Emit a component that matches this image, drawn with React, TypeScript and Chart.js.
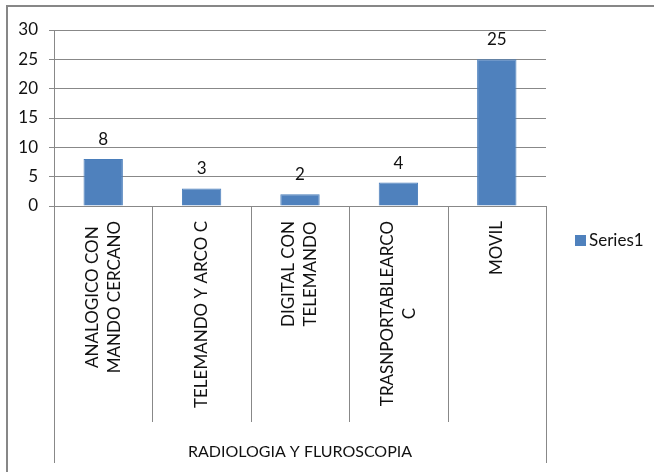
import React, { useEffect, useRef } from "react";
import { Chart, registerables } from "chart.js";

Chart.register(...registerables);

// Equipment categories (multi-line labels) and counts
const categories: string[][] = [
  ["ANALOGICO CON", "MANDO CERCANO"],
  ["TELEMANDO Y ARCO C"],
  ["DIGITAL CON", "TELEMANDO"],
  ["TRASNPORTABLEARCO", "C"],
  ["MOVIL"],
];
const seriesValues: number[] = [8, 3, 2, 4, 25];
const seriesName = "Series1";
const groupLabel = "RADIOLOGIA Y FLUROSCOPIA";
const yTicks: number[] = [0, 5, 10, 15, 20, 25, 30];

const FONT = "Lato, 'Open Sans', sans-serif";
const GRID = "#888888";
const BAR = "#4F81BD";
const TEXT = "#111111";

const decorations = {
  id: "decorations",
  afterDraw(chart: any) {
    const ctx = chart.ctx as CanvasRenderingContext2D;
    const x = chart.scales.x;
    const area = chart.chartArea;
    const n = categories.length;
    const half = (x.getPixelForValue(1) - x.getPixelForValue(0)) / 2;
    const sepBottom = area.bottom + 216;
    const outerBottom = area.bottom + 257;

    ctx.save();
    ctx.strokeStyle = GRID;
    ctx.lineWidth = 1;
    // category boundaries below the axis
    for (let i = 0; i <= n; i++) {
      const px = Math.round(x.getPixelForValue(i) - half) + 0.5;
      const bottom = i === 0 || i === n ? outerBottom : sepBottom;
      ctx.beginPath();
      ctx.moveTo(px, area.bottom);
      ctx.lineTo(px, bottom);
      ctx.stroke();
    }

    // rotated category labels, lines centred on each other
    ctx.fillStyle = TEXT;
    ctx.font = `17px ${FONT}`;
    const lineH = 22;
    const topY = area.bottom + 15;
    categories.forEach((lines, i) => {
      const cx = x.getPixelForValue(i);
      const w = Math.max(...lines.map((l) => ctx.measureText(l).width));
      ctx.save();
      ctx.translate(cx, topY);
      ctx.rotate(-Math.PI / 2);
      ctx.textAlign = "center";
      ctx.textBaseline = "middle";
      lines.forEach((l, j) => {
        ctx.fillText(l, -w / 2, (j - (lines.length - 1) / 2) * lineH);
      });
      ctx.restore();
    });

    // group label
    ctx.font = `16px ${FONT}`;
    ctx.textAlign = "center";
    ctx.textBaseline = "middle";
    ctx.fillText(groupLabel, (area.left + area.right) / 2, area.bottom + 246);

    // value labels above bars
    const meta = chart.getDatasetMeta(0);
    ctx.font = `17px ${FONT}`;
    ctx.textBaseline = "alphabetic";
    meta.data.forEach((bar: any, i: number) => {
      ctx.fillText(String(seriesValues[i]), bar.x, bar.y - 14);
    });

    // legend
    ctx.fillStyle = BAR;
    ctx.fillRect(area.right + 29, 235, 11, 11);
    ctx.fillStyle = TEXT;
    ctx.font = `17px ${FONT}`;
    ctx.textAlign = "left";
    ctx.textBaseline = "middle";
    ctx.fillText(seriesName, area.right + 43, 241);

    // outer chart frame
    ctx.strokeStyle = "#878787";
    ctx.lineWidth = 2;
    ctx.strokeRect(7, 6, 700, 520);
    ctx.restore();
  },
};

export default function App() {
  const ref = useRef<HTMLCanvasElement | null>(null);

  useEffect(() => {
    if (!ref.current) return;
    const chart = new Chart(ref.current, {
      type: "bar",
      data: {
        labels: categories.map((c) => c.join(" ")),
        datasets: [
          {
            label: seriesName,
            data: seriesValues,
            backgroundColor: BAR,
            borderColor: "#4A7EBB",
            borderWidth: 1,
            barPercentage: 0.4,
            categoryPercentage: 1,
          },
        ],
      },
      options: {
        responsive: false,
        animation: false,
        layout: { padding: { top: 30, right: 108, left: 0, bottom: 0 } },
        plugins: {
          legend: { display: false },
          tooltip: { enabled: false },
        },
        scales: {
          x: {
            grid: { display: false },
            border: { display: false },
            ticks: { display: false },
            afterFit: (s: any) => {
              s.height = 266;
            },
          },
          y: {
            min: 0,
            max: 30,
            afterBuildTicks: (s: any) => {
              s.ticks = yTicks.map((v) => ({ value: v }));
            },
            grid: { color: GRID, tickLength: 5, lineWidth: 1 },
            border: { display: true, color: GRID },
            ticks: {
              padding: 11,
              color: TEXT,
              font: { family: FONT, size: 17 },
            },
            afterFit: (s: any) => {
              s.width = 54;
            },
          },
        },
      },
      plugins: [decorations],
    });
    return () => chart.destroy();
  }, []);

  return (
    <div style={{ position: "absolute", left: 0, top: 0, width: 654, height: 472, background: "#fff" }}>
      <canvas ref={ref} width={654} height={472} />
    </div>
  );
}
